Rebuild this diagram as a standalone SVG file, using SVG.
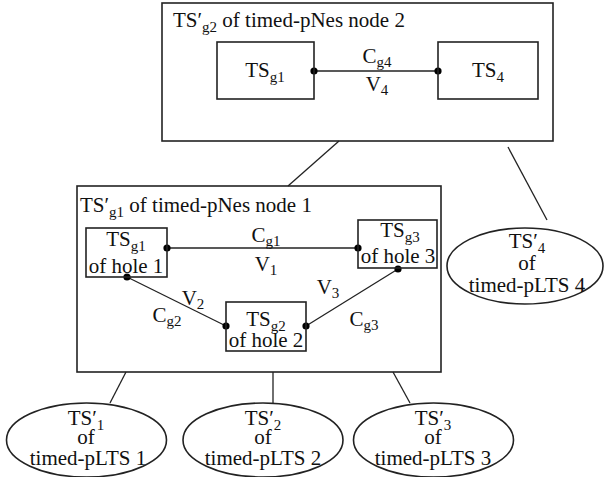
<svg xmlns="http://www.w3.org/2000/svg" width="604" height="477" viewBox="0 0 604 477">
<style>
text{font-family:"Liberation Serif","Times New Roman",serif;font-size:21px;fill:#111}
.m{text-anchor:middle}
.s{font-size:15px}
.p{font-size:15px}
.box{fill:none;stroke:#222;stroke-width:1.6}
.ln{stroke:#222;stroke-width:1.3;fill:none}
.dot{fill:#000}
</style>
<rect width="604" height="477" fill="#fff"/>
<g id="connectors">
<line class="ln" x1="339" y1="141" x2="288" y2="186"/>
<line class="ln" x1="508" y1="147" x2="547" y2="220"/>
<line class="ln" x1="126" y1="372" x2="110" y2="403"/>
<line class="ln" x1="273" y1="372" x2="273" y2="403"/>
<line class="ln" x1="393" y1="372" x2="410" y2="403"/>
<line class="ln" x1="314" y1="71" x2="438" y2="71"/>
<circle class="dot" cx="314" cy="71" r="3.6"/>
<circle class="dot" cx="438" cy="71" r="3.6"/>
<text class="m" x="377" y="63">C<tspan class="s" dy="4">g4</tspan></text>
<text class="m" x="377" y="91">V<tspan class="s" dy="4">4</tspan></text>
<line class="ln" x1="167" y1="248" x2="358" y2="248"/>
<circle class="dot" cx="167" cy="248" r="3.6"/>
<circle class="dot" cx="358" cy="248" r="3.6"/>
<text class="m" x="266" y="242">C<tspan class="s" dy="4">g1</tspan></text>
<text class="m" x="266" y="271">V<tspan class="s" dy="4">1</tspan></text>
<line class="ln" x1="127" y1="277" x2="226" y2="326"/>
<circle class="dot" cx="127" cy="277" r="3.6"/>
<circle class="dot" cx="226" cy="326" r="3.6"/>
<text class="m" x="193" y="305">V<tspan class="s" dy="4">2</tspan></text>
<text class="m" x="167" y="322">C<tspan class="s" dy="4">g2</tspan></text>
<line class="ln" x1="306" y1="326" x2="398" y2="269"/>
<circle class="dot" cx="306" cy="326" r="3.6"/>
<circle class="dot" cx="398" cy="269" r="3.6"/>
<text class="m" x="328" y="294">V<tspan class="s" dy="4">3</tspan></text>
<text class="m" x="364" y="326">C<tspan class="s" dy="4">g3</tspan></text>
</g>
<g id="node2">
<rect class="box" x="162" y="3" width="391" height="138"/>
<text x="173" y="27">TS′<tspan class="s" dy="5">g2</tspan><tspan dy="-5"> of timed-pNes node 2</tspan></text>
</g>
<g id="ts-g1-top">
<rect class="box" x="217" y="42" width="97" height="57"/>
<text class="m" x="265" y="77">TS<tspan class="s" dy="5">g1</tspan></text>
</g>
<g id="ts4">
<rect class="box" x="438" y="42" width="100" height="57"/>
<text class="m" x="488" y="77">TS<tspan class="s" dy="5">4</tspan></text>
</g>
<g id="node1">
<rect class="box" x="77" y="186" width="364" height="186"/>
<text x="80" y="212">TS′<tspan class="s" dy="5">g1</tspan><tspan dy="-5"> of timed-pNes node 1</tspan></text>
</g>
<g id="hole1">
<rect class="box" x="86" y="228" width="81" height="49"/>
<text class="m" x="126" y="246">TS<tspan class="s" dy="5">g1</tspan></text>
<text class="m" x="126" y="273">of hole 1</text>
</g>
<g id="hole3">
<rect class="box" x="358" y="220" width="79" height="48"/>
<text class="m" x="400" y="237">TS<tspan class="s" dy="5">g3</tspan></text>
<text class="m" x="398" y="263">of hole 3</text>
</g>
<g id="hole2">
<rect class="box" x="226" y="302" width="80" height="49"/>
<text class="m" x="266" y="326">TS<tspan class="s" dy="5">g2</tspan></text>
<text class="m" x="266" y="347">of hole 2</text>
</g>
<g id="lts1">
<ellipse class="box" cx="86.5" cy="440" rx="80" ry="37"/>
<text class="m" x="86" y="425">TS′<tspan class="s" dy="5">1</tspan></text>
<text class="m" x="86" y="444">of</text>
<text class="m" x="88" y="465">timed-pLTS 1</text>
</g>
<g id="lts2">
<ellipse class="box" cx="263" cy="440" rx="80" ry="37"/>
<text class="m" x="263" y="425">TS′<tspan class="s" dy="5">2</tspan></text>
<text class="m" x="263" y="444">of</text>
<text class="m" x="263" y="465">timed-pLTS 2</text>
</g>
<g id="lts3">
<ellipse class="box" cx="433.5" cy="440" rx="80" ry="37"/>
<text class="m" x="433" y="425">TS′<tspan class="s" dy="5">3</tspan></text>
<text class="m" x="433" y="444">of</text>
<text class="m" x="433" y="465">timed-pLTS 3</text>
</g>
<g id="lts4">
<ellipse class="box" cx="525" cy="266" rx="78" ry="38"/>
<text class="m" x="527" y="248">TS′<tspan class="s" dy="5">4</tspan></text>
<text class="m" x="527" y="270">of</text>
<text class="m" x="527" y="292">timed-pLTS 4</text>
</g>
</svg>
